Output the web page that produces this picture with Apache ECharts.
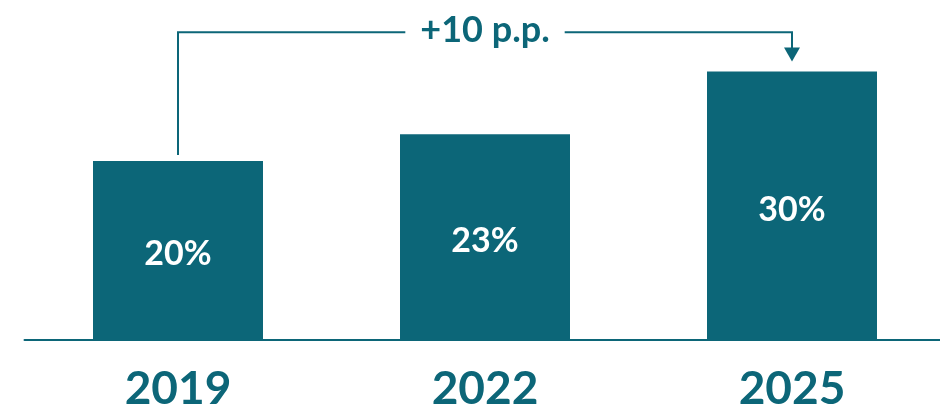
<!DOCTYPE html>
<html>
<head>
<meta charset="utf-8">
<script src="https://cdn.jsdelivr.net/npm/echarts@6/dist/echarts.min.js"></script>
<style>
  html, body { margin: 0; padding: 0; background: #fff; }
  #chart { width: 940px; height: 407px; }
</style>
</head>
<body>
<div id="chart"></div>
<script>
// data
var years = ['2019', '2022', '2025']
var shares = [20, 23, 30]
var changeLabel = '+10 p.p.'

var teal = '#0c6678'
var font = 'Lato, "Open Sans", sans-serif'

var chart = echarts.init(document.getElementById('chart'))

chart.setOption({
  animation: false,
  grid: { left: 24.5, width: 921, top: 0, bottom: 67, outerBoundsMode: 'none', containLabel: false },
  xAxis: {
    type: 'category',
    data: years,
    axisTick: { show: false },
    axisLine: { lineStyle: { color: teal, width: 2 } },
    axisLabel: {
      color: teal,
      fontSize: 46,
      fontWeight: 'bold',
      fontFamily: font,
      margin: 26
    }
  },
  yAxis: {
    type: 'value',
    min: 0,
    max: 38,
    show: false,
    splitLine: { show: false }
  },
  series: [{
    type: 'bar',
    data: shares,
    barWidth: 170,
    itemStyle: { color: teal },
    label: {
      show: true,
      position: 'inside',
      offset: [0, 4],
      formatter: '{c}%',
      color: '#fff',
      fontSize: 34,
      fontWeight: 'bold',
      fontFamily: font
    }
  }]
})

// bracket annotation from first to last bar
var p0 = chart.convertToPixel({ seriesIndex: 0 }, [0, shares[0]])
var p1 = chart.convertToPixel({ seriesIndex: 0 }, [years.length - 1, shares[shares.length - 1]])
var topY = chart.convertToPixel({ yAxisIndex: 0 }, 34.4)
var tipY = p1[1] - 10

chart.setOption({
  graphic: [
    {
      type: 'polyline',
      shape: { points: [[p0[0], p0[1] - 6], [p0[0], topY], [p1[0], topY], [p1[0], tipY - 12]] },
      style: { stroke: teal, lineWidth: 2, fill: null }
    },
    {
      type: 'polygon',
      shape: { points: [[p1[0] - 8, tipY - 14], [p1[0] + 8, tipY - 14], [p1[0], tipY]] },
      style: { fill: teal }
    },
    {
      type: 'text',
      x: (p0[0] + p1[0]) / 2,
      y: topY - 2,
      style: {
        text: changeLabel,
        align: 'center',
        verticalAlign: 'middle',
        fill: teal,
        font: 'bold 36px ' + font,
        backgroundColor: '#fff',
        padding: [0, 15]
      }
    }
  ]
})
</script>
</body>
</html>
